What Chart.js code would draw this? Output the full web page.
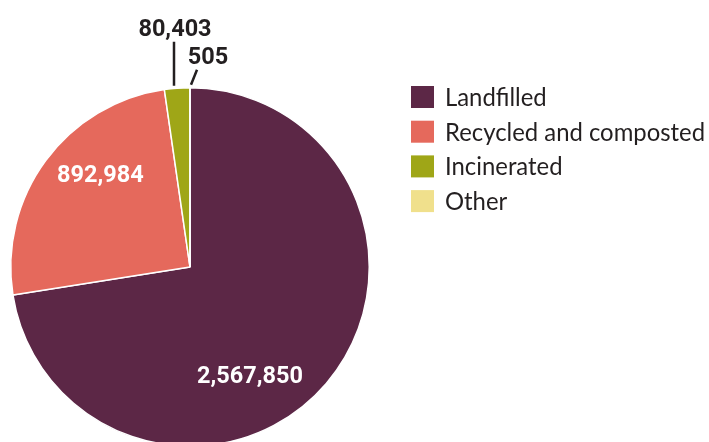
<!DOCTYPE html>
<html>
<head>
<meta charset="utf-8">
<script src="https://cdn.jsdelivr.net/npm/chart.js@4"></script>
<style>
  html, body { margin: 0; padding: 0; background: #fff; overflow: hidden; }
  #wrap { width: 709px; height: 460px; position: relative; }
</style>
</head>
<body>
<div id="wrap"><canvas id="chart"></canvas></div>
<script>
// Waste disposal by method (tonnes)
const categories = ['Landfilled', 'Recycled and composted', 'Incinerated', 'Other'];
const values = [2567850, 892984, 80403, 505];
const valueLabels = ['2,567,850', '892,984', '80,403', '505'];
const colors = ['#5c2746', '#e5695c', '#9fa617', '#f0e08c'];

// Label placement: inside labels by angle (deg, canvas coords) + radius fraction
const insideLabels = [
    { index: 0, angle: 61, r: 0.69 },
    { index: 1, angle: 226, r: 0.72 }
];

// Draws value labels (inside + leader-line callouts)
const valueLabelPlugin = {
    id: 'valueLabels',
    afterDatasetsDraw(chart) {
        const ctx = chart.ctx;
        const arcs = chart.getDatasetMeta(0).data;
        const cx = arcs[0].x, cy = arcs[0].y, R = arcs[0].outerRadius;
        ctx.save();
        ctx.font = 'bold 23.5px Roboto';
        ctx.textAlign = 'center';
        ctx.textBaseline = 'alphabetic';

        ctx.fillStyle = '#ffffff';
        insideLabels.forEach(l => {
            const a = l.angle * Math.PI / 180;
            ctx.fillText(valueLabels[l.index], cx + Math.cos(a) * R * l.r, cy + Math.sin(a) * R * l.r + 8);
        });

        // callouts for the small slices
        ctx.fillStyle = '#231f20';
        ctx.strokeStyle = '#231f20';
        ctx.lineWidth = 2.5;
        // Incinerated
        ctx.beginPath();
        ctx.moveTo(cx - 16, cy - R - 2);
        ctx.lineTo(cx - 16, cy - R - 46);
        ctx.stroke();
        ctx.fillText(valueLabels[2], cx - 15, cy - R - 52);
        // Other
        ctx.beginPath();
        ctx.moveTo(cx + 1, cy - R - 3);
        ctx.lineTo(cx + 7, cy - R - 18);
        ctx.stroke();
        ctx.fillText(valueLabels[3], cx + 18, cy - R - 24);
        ctx.restore();
    }
};

// Legend drawn at right, box + label per category
const sideLegendPlugin = {
    id: 'sideLegend',
    afterDraw(chart) {
        const ctx = chart.ctx;
        ctx.save();
        ctx.font = '25px Lato';
        ctx.textBaseline = 'middle';
        ctx.textAlign = 'left';
        // squeeze text so the longest label fits the reference width
        const widest = Math.max(...categories.map(c => ctx.measureText(c).width));
        const sx = Math.min(1, 260 / widest);
        categories.forEach((c, i) => {
            const y = 97 + i * 34.7;
            ctx.fillStyle = colors[i];
            ctx.fillRect(411, y - 11, 23, 22);
            ctx.fillStyle = '#231f20';
            ctx.save();
            ctx.translate(445, y + 1);
            ctx.scale(sx, 1);
            ctx.fillText(c, 0, 0);
            ctx.restore();
        });
        ctx.restore();
    }
};

new Chart(document.getElementById('chart'), {
    type: 'pie',
    data: {
        labels: categories,
        datasets: [{
            data: values,
            backgroundColor: colors,
            borderColor: '#ffffff',
            borderWidth: 1.5
        }]
    },
    options: {
        responsive: true,
        maintainAspectRatio: false,
        animation: false,
        layout: { padding: { left: 10, right: 339, top: 87, bottom: 13 } },
        plugins: {
            legend: { display: false },
            tooltip: { enabled: false }
        }
    },
    plugins: [valueLabelPlugin, sideLegendPlugin]
});
</script>
</body>
</html>
